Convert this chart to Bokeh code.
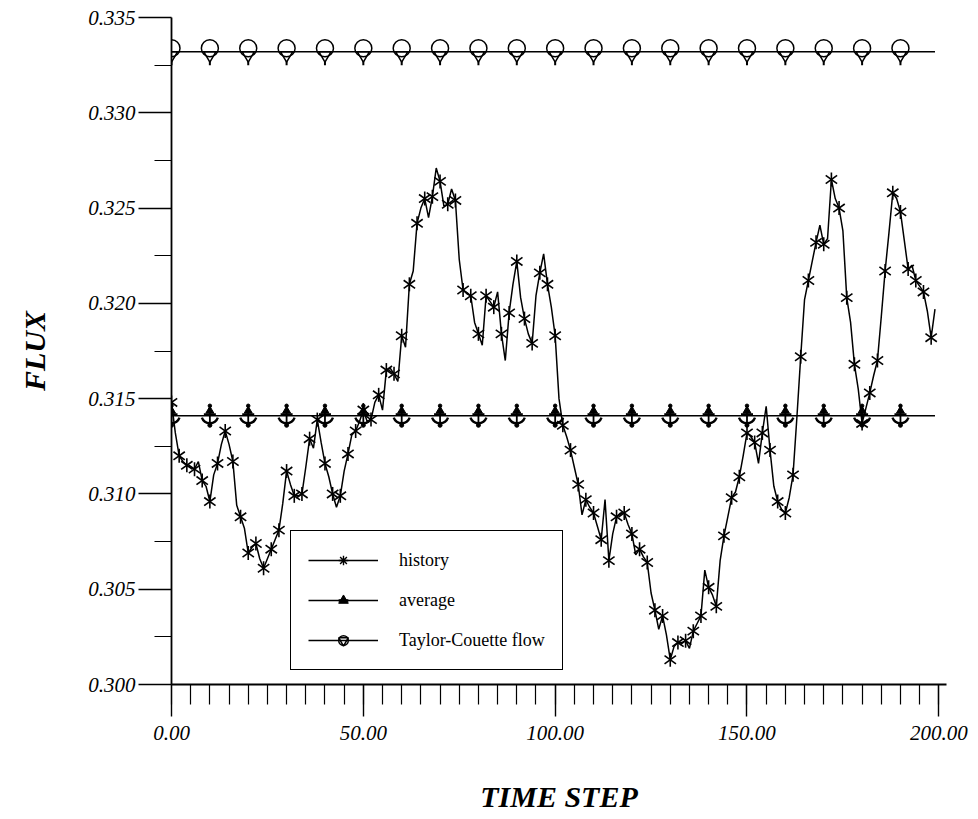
import math
from bokeh.plotting import figure
from bokeh.models import Range1d, FixedTicker, PrintfTickFormatter, Legend, LegendItem
from bokeh.embed import file_html
from bokeh.resources import INLINE

# ---------------- data ----------------
steps = list(range(200))
history = [
    0.3148, 0.3132, 0.3120, 0.3117, 0.3115, 0.3114, 0.3113, 0.3117, 0.3107, 0.3104,
    0.3096, 0.3110, 0.3116, 0.3126, 0.3133, 0.3126, 0.3117, 0.3094, 0.3088, 0.3082,
    0.3069, 0.3072, 0.3074, 0.3066, 0.3061, 0.3066, 0.3071, 0.3076, 0.3081, 0.3095,
    0.3112, 0.3105, 0.3099, 0.3099, 0.3100, 0.3114, 0.3129, 0.3124, 0.3139, 0.3127,
    0.3116, 0.3109, 0.3100, 0.3093, 0.3099, 0.3112, 0.3121, 0.3131, 0.3133, 0.3138,
    0.3144, 0.3138, 0.3139, 0.3148, 0.3152, 0.3144, 0.3165, 0.3166, 0.3163, 0.3159,
    0.3183, 0.3177, 0.3210, 0.3217, 0.3242, 0.3250, 0.3255, 0.3245, 0.3256, 0.3271,
    0.3264, 0.3251, 0.3252, 0.3260, 0.3254, 0.3223, 0.3207, 0.3205, 0.3204, 0.3190,
    0.3184, 0.3178, 0.3204, 0.3201, 0.3198, 0.3206, 0.3184, 0.3170, 0.3195, 0.3210,
    0.3222, 0.3203, 0.3192, 0.3184, 0.3179, 0.3204, 0.3216, 0.3226, 0.3210, 0.3198,
    0.3183, 0.3150, 0.3136, 0.3130, 0.3123, 0.3114, 0.3105, 0.3089, 0.3097, 0.3093,
    0.3090, 0.3083, 0.3076, 0.3097, 0.3065, 0.3079, 0.3088, 0.3090, 0.3090, 0.3084,
    0.3079, 0.3068, 0.3071, 0.3067, 0.3064, 0.3048, 0.3039, 0.3029, 0.3036, 0.3026,
    0.3013, 0.3020, 0.3022, 0.3022, 0.3023, 0.3019, 0.3028, 0.3032, 0.3036, 0.3060,
    0.3051, 0.3047, 0.3041, 0.3065, 0.3078, 0.3088, 0.3098, 0.3101, 0.3109, 0.3120,
    0.3132, 0.3130, 0.3127, 0.3116, 0.3132, 0.3146, 0.3123, 0.3104, 0.3096, 0.3092,
    0.3090, 0.3098, 0.3110, 0.3140, 0.3172, 0.3202, 0.3212, 0.3222, 0.3232, 0.3241,
    0.3231, 0.3234, 0.3265, 0.3255, 0.3250, 0.3238, 0.3203, 0.3190, 0.3168, 0.3155,
    0.3137, 0.3145, 0.3153, 0.3162, 0.3170, 0.3193, 0.3217, 0.3237, 0.3258, 0.3255,
    0.3248, 0.3233, 0.3218, 0.3220, 0.3212, 0.3209, 0.3206, 0.3196, 0.3182, 0.3197,
]
average = 0.3141
taylor_couette = 0.3332
marker_steps = [0, 10, 20, 30, 40, 50, 60, 70, 80, 90,
                100, 110, 120, 130, 140, 150, 160, 170, 180, 190]
x_ticks = [0, 50, 100, 150, 200]
x_minor = list(range(0, 201, 5))
y_ticks = [0.300, 0.305, 0.310, 0.315, 0.320, 0.325, 0.330, 0.335]
y_minor = [0.3025, 0.3075, 0.3125, 0.3175, 0.3225, 0.3275, 0.3325]

# ---------------- layout ----------------
W, H = 978, 819
LEFT, RIGHT, TOP, BOTTOM = 171, 32, 17, 135
X_MAX = 202.0
Y_MIN, Y_MAX = 0.300, 0.335
FW = W - LEFT - RIGHT
FH = H - TOP - BOTTOM
PX_Y = FH / (Y_MAX - Y_MIN)


def oy(px):
    return px / PX_Y


SERIF = "Liberation Serif"

p = figure(width=W, height=H, x_range=Range1d(0, X_MAX), y_range=Range1d(Y_MIN, Y_MAX),
           output_backend="svg", toolbar_location=None,
           min_border_left=LEFT, min_border_right=RIGHT,
           min_border_top=TOP, min_border_bottom=BOTTOM)
p.outline_line_color = None
p.grid.visible = False
p.background_fill_color = "white"
p.border_fill_color = "white"

xa = p.xaxis[0]
xa.ticker = FixedTicker(ticks=x_ticks, minor_ticks=x_minor)
xa.formatter = PrintfTickFormatter(format="%.2f")
xa.major_tick_out = 32
xa.major_tick_in = 0
xa.minor_tick_out = 20
xa.minor_tick_in = 0
xa.major_label_standoff = 9
xa.axis_label = "TIME STEP"
xa.axis_label_standoff = 37

ya = p.yaxis[0]
ya.ticker = FixedTicker(ticks=y_ticks, minor_ticks=y_minor)
ya.formatter = PrintfTickFormatter(format="%.3f")
ya.major_tick_out = 33
ya.major_tick_in = 0
ya.minor_tick_out = 17
ya.minor_tick_in = 0
ya.major_label_standoff = 3
ya.axis_label = "FLUX"
ya.axis_label_standoff = 34

for ax in (xa, ya):
    ax.axis_line_color = "black"
    ax.axis_line_width = 1.8
    ax.major_tick_line_color = "black"
    ax.major_tick_line_width = 1.4
    ax.minor_tick_line_color = "black"
    ax.minor_tick_line_width = 1.2
    ax.major_label_text_font = SERIF
    ax.major_label_text_font_style = "italic"
    ax.major_label_text_font_size = "21px"
    ax.major_label_text_color = "black"
    ax.axis_label_text_font = SERIF
    ax.axis_label_text_font_style = "bold italic"
    ax.axis_label_text_font_size = "30px"
    ax.axis_label_text_color = "black"

K = dict(line_color="black")

# ---- history ----
hist_line = p.line(steps, history, line_width=1.5, **K)
star_x = steps[::2]
star_y = history[::2]
stars = [p.scatter(star_x, star_y, marker="dash", size=14, angle=a, line_width=1.6, **K)
         for a in (math.pi / 2, 0.62, -0.62)]
# zero-size copy of the star points: invisible in the plot, gives the legend its star key
hist_key = p.scatter(star_x, star_y, marker="asterisk", size=0, line_width=1.4, **K)

# ---- average ----
n = len(marker_steps)
avg_line = p.line([steps[0], steps[-1]], [average, average], line_width=1.4, **K)
a_tri = p.scatter(marker_steps, [average + oy(5)] * n, marker="triangle", size=8,
                  fill_color="black", **K)
a_top = p.scatter(marker_steps, [average + oy(10)] * n, marker="circle", size=3.5,
                  fill_color="black", **K)
a_stem = p.scatter(marker_steps, [average] * n, marker="dash", angle=math.pi / 2, size=20,
                   line_width=1.8, **K)
a_bar = p.scatter(marker_steps, [average + oy(1.5)] * n, marker="dash", size=12,
                  line_width=2.2, **K)
a_arc = p.arc(marker_steps, [average + oy(1)] * n, radius=8.5, radius_units="screen",
              start_angle=math.radians(200), end_angle=math.radians(340),
              line_width=2.4, **K)
a_bot = p.scatter(marker_steps, [average - oy(9.5)] * n, marker="circle", size=4,
                  fill_color="black", **K)

# ---- Taylor-Couette ----
tc_line = p.line([steps[0], steps[-1]], [taylor_couette, taylor_couette], line_width=1.4, **K)
t_circ = p.scatter(marker_steps, [taylor_couette + oy(3.5)] * n, marker="circle", size=17,
                   fill_color=None, line_width=1.5, **K)
t_tri = p.scatter(marker_steps, [taylor_couette - oy(3.46)] * n, marker="inverted_triangle",
                  size=12, fill_color=None, line_width=1.5, **K)
t_stem = p.scatter(marker_steps, [taylor_couette - oy(11.5)] * n, marker="dash",
                   angle=math.pi / 2, size=4, line_width=2, **K)

legend = Legend(items=[
    LegendItem(label="history", renderers=[hist_line, hist_key]),
    LegendItem(label="average", renderers=[avg_line, a_tri, a_stem, a_bar]),
    LegendItem(label="Taylor-Couette flow", renderers=[tc_line, t_circ, t_tri]),
], location=(119, 14))
legend.border_line_color = "black"
legend.border_line_alpha = 1.0
legend.border_line_width = 1.4
legend.background_fill_color = "white"
legend.background_fill_alpha = 1.0
legend.label_text_font = SERIF
legend.label_text_font_size = "18px"
legend.label_text_color = "black"
legend.glyph_width = 70
legend.glyph_height = 24
legend.label_standoff = 21
legend.padding = 17
legend.spacing = 16
legend.margin = 0
p.add_layout(legend)

open("out.html", "w").write(file_html(p, INLINE))
